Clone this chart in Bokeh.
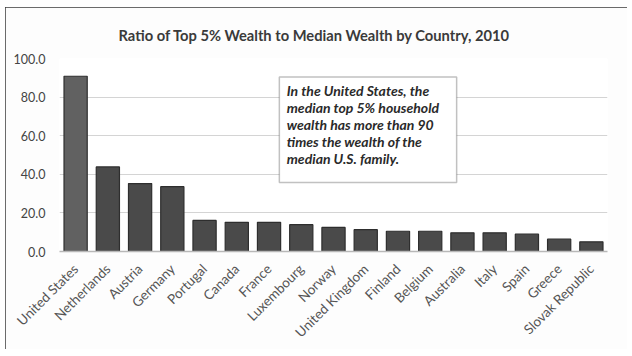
from bokeh.plotting import figure
from bokeh.models import ColumnDataSource, Range1d, BoxAnnotation, Label, NumeralTickFormatter, FixedTicker
from bokeh.embed import file_html
from bokeh.resources import INLINE
from math import pi

countries = ["United States", "Netherlands", "Austria", "Germany", "Portugal", "Canada",
             "France", "Luxembourg", "Norway", "United Kingdom", "Finland", "Belgium",
             "Australia", "Italy", "Spain", "Greece", "Slovak Republic"]
ratios = [90.8, 43.8, 35.2, 33.6, 16.1, 15.1, 15.1, 13.9, 12.5, 11.3, 10.5, 10.5,
          9.7, 9.7, 9.0, 6.4, 5.0]
y_ticks = [0, 20, 40, 60, 80, 100]
title_text = "Ratio of Top 5% Wealth to Median Wealth by Country,  2010"
note_text = ("In the United States, the\nmedian top 5% household\nwealth has more than 90\n"
             "times the wealth of the\nmedian U.S. family.")

FONT = "Lato"
colors = ["#616161"] + ["#4a4a4a"] * (len(countries) - 1)
src = ColumnDataSource(dict(country=countries, ratio=ratios, color=colors))

p = figure(x_range=countries, y_range=Range1d(0, 100), width=622, height=342,
           output_backend="svg", toolbar_location=None,
           min_border_left=54, min_border_right=20, min_border_top=51, min_border_bottom=98)
p.styles = {"outline": "2px solid #3a3a3a", "outline-offset": "-2px",
            "margin-left": "5px", "margin-top": "7px"}
p.background_fill_color = "#ffffff"
p.border_fill_color = "#fdfdfd"
p.outline_line_color = None

p.vbar(x="country", top="ratio", width=0.72, source=src, fill_color="color",
       line_color="#2e2e2e", line_width=1.2)

p.title.text = title_text
p.title.text_font = FONT
p.title.text_font_size = "14.7px"
p.title.text_font_style = "bold"
p.title.text_color = "#3a3a3a"
p.title.align = "left"
p.title.offset = 59
p.title.standoff = 30

p.yaxis.ticker = FixedTicker(ticks=y_ticks)
p.yaxis.formatter = NumeralTickFormatter(format="0.0")
p.yaxis.axis_line_color = None
p.yaxis.major_tick_line_color = None
p.yaxis.minor_tick_line_color = None
p.yaxis.major_label_text_font = FONT
p.yaxis.major_label_text_font_size = "12.5px"
p.yaxis.major_label_text_color = "#444444"
p.yaxis.major_label_standoff = 8

p.xaxis.axis_line_color = "#b8b8b8"
p.xaxis.axis_line_width = 1.5
p.xaxis.major_tick_line_color = None
p.xaxis.minor_tick_line_color = None
p.xaxis.major_label_orientation = pi / 4
p.xaxis.major_label_text_font = FONT
p.xaxis.major_label_text_font_size = "13.5px"
p.xaxis.major_label_text_color = "#555555"
p.xaxis.major_label_standoff = 9

p.xgrid.grid_line_color = None
p.ygrid.grid_line_color = "#d4d4d4"
p.ygrid.grid_line_width = 1.2

box = BoxAnnotation(left=6.82, right=12.32, top=90.4, bottom=35.8,
                    fill_color="#ffffff", fill_alpha=1.0,
                    line_color="#333333", line_width=1.5)
p.add_layout(box)
note = Label(x=7.05, y=88.0, text=note_text, text_font=FONT, text_font_size="14px",
             text_font_style="bold italic", text_color="#2a2a2a", text_baseline="top",
             text_align="left", text_line_height=1.0)
p.add_layout(note)

open("out.html", "w").write(file_html(p, INLINE))
